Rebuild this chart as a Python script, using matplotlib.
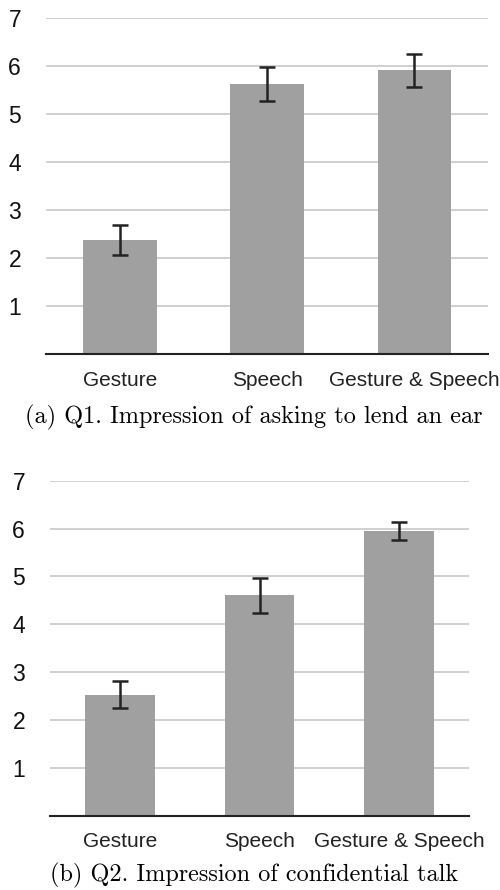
import matplotlib
matplotlib.use("Agg")
import matplotlib.pyplot as plt

conditions = ["Gesture", "Speech", "Gesture & Speech"]

q1_means = [2.38, 5.63, 5.91]
q1_errors = [0.31, 0.35, 0.34]
q1_caption = "(a) Q1. Impression of asking to lend an ear"

q2_means = [2.53, 4.61, 5.95]
q2_errors = [0.285, 0.365, 0.19]
q2_caption = "(b) Q2. Impression of confidential talk"

y_ticks = [1, 2, 3, 4, 5, 6, 7]


def draw_panel(ax, means, errors):
    """
    Bar chart with error bars in the style of a Numbers chart.
    """
    x = range(len(conditions))
    ax.bar(x, means, width=0.5, color="#a0a0a0", zorder=2)
    ax.errorbar(x, means, yerr=errors, fmt="none", ecolor="#222222",
                elinewidth=1.8, capsize=6, capthick=1.8, zorder=3)

    ax.set_xlim(-0.5, 2.5)
    ax.set_ylim(0, 7)
    ax.set_yticks(y_ticks)
    ax.set_xticks(list(x))
    ax.set_xticklabels(conditions, fontsize=15, color="#222222",
                       family="Liberation Sans")
    ax.set_yticklabels([str(t) for t in y_ticks], fontsize=16.5,
                       color="#111111", family="Liberation Sans")
    ax.tick_params(axis="y", length=0, pad=18)
    ax.tick_params(axis="x", length=0, pad=12)

    ax.grid(axis="y", color="#c8c8c8", linewidth=1.2, zorder=0)
    ax.set_axisbelow(True)
    for side in ["top", "right", "left"]:
        ax.spines[side].set_visible(False)
    ax.spines["bottom"].set_color("#222222")
    ax.spines["bottom"].set_linewidth(1.5)
    ax.spines["bottom"].set_zorder(4)


fig = plt.figure(figsize=(5, 8.9), dpi=100)

ax1 = fig.add_axes([0.092, 0.6022, 0.884, 0.3775])
draw_panel(ax1, q1_means, q1_errors)
fig.text(0.508, 1 - 417 / 890, q1_caption, ha="center", va="center",
         fontsize=17.5, family="cmr10")

ax2 = fig.add_axes([0.100, 0.0835, 0.838, 0.3764])
draw_panel(ax2, q2_means, q2_errors)
fig.text(0.508, 1 - 875 / 890, q2_caption, ha="center", va="center",
         fontsize=17.5, family="cmr10")

fig.savefig("out.png", dpi=100)
